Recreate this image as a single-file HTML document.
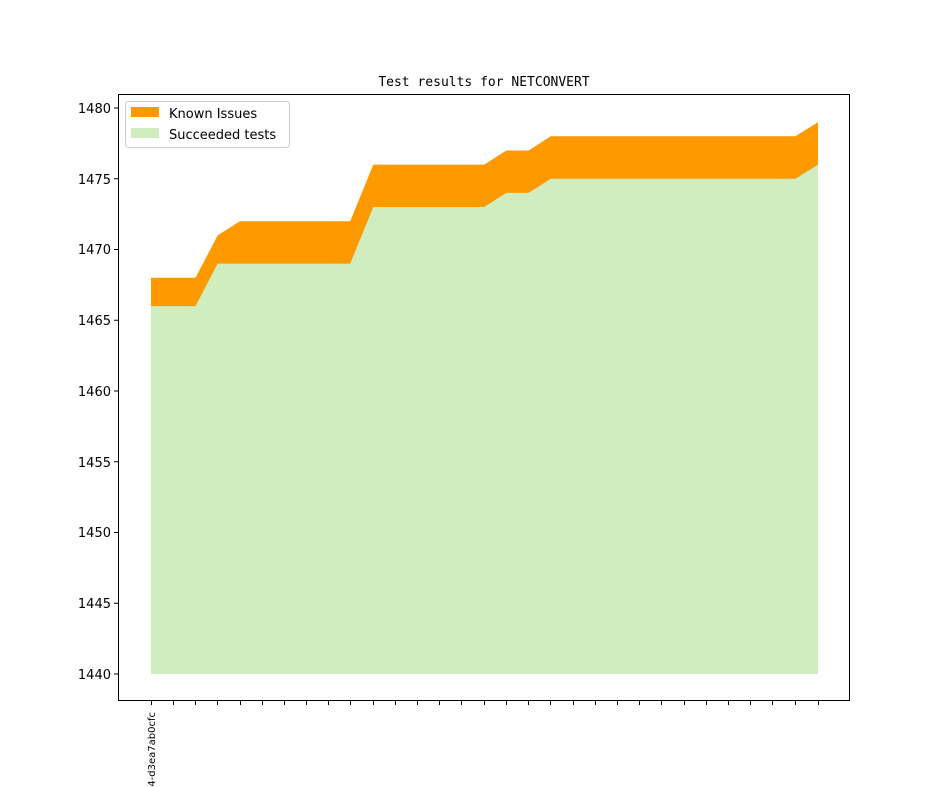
<!DOCTYPE html>
<html><head><meta charset="utf-8"><style>html,body{margin:0;background:#fff;overflow:hidden;width:944px;height:787px}svg{display:block}</style></head><body>
<svg width="944" height="787" xmlns="http://www.w3.org/2000/svg" font-family="DejaVu Sans, Liberation Sans, sans-serif">
<rect width="944" height="787" fill="#fff"/>
<text x="484" y="86" font-size="13" text-anchor="middle" font-family="DejaVu Sans Mono, Liberation Mono, monospace">Test results for NETCONVERT</text>
<polygon fill="#ff9900" points="151,277.8 195.5,277.8 217.7,235.35 239.9,221.2 350.2,221.2 373.3,164.6 484.2,164.6 506.4,150.45 528.6,150.45 550.8,136.3 795.4,136.3 818,122.15 818,674 151,674"/>
<polygon fill="#cfedbf" points="151,306.1 195.5,306.1 217.7,263.65 350.2,263.65 373.3,207.05 484.2,207.05 506.4,192.9 528.6,192.9 550.8,178.75 795.4,178.75 818,164.6 818,674 151,674"/>
<rect x="118.5" y="94.5" width="731" height="606" fill="none" stroke="#000" stroke-width="1"/>
<g stroke="#000" stroke-width="1">
<line x1="118" x2="114" y1="674" y2="674"/><line x1="118" x2="114" y1="603.25" y2="603.25"/><line x1="118" x2="114" y1="532.5" y2="532.5"/><line x1="118" x2="114" y1="461.75" y2="461.75"/><line x1="118" x2="114" y1="391" y2="391"/><line x1="118" x2="114" y1="320.25" y2="320.25"/><line x1="118" x2="114" y1="249.5" y2="249.5"/><line x1="118" x2="114" y1="178.75" y2="178.75"/><line x1="118" x2="114" y1="108" y2="108"/>
</g>
<g font-size="13" text-anchor="end">
<text x="111" y="679">1440</text><text x="111" y="608">1445</text><text x="111" y="537">1450</text><text x="111" y="467">1455</text><text x="111" y="396">1460</text><text x="111" y="325">1465</text><text x="111" y="254">1470</text><text x="111" y="184">1475</text><text x="111" y="113">1480</text>
</g>
<g stroke="#000" stroke-width="1">
<line x1="151.5" x2="151.5" y1="701" y2="705"/><line x1="173.5" x2="173.5" y1="701" y2="705"/><line x1="195.5" x2="195.5" y1="701" y2="705"/><line x1="217.5" x2="217.5" y1="701" y2="705"/><line x1="240.5" x2="240.5" y1="701" y2="705"/><line x1="262.5" x2="262.5" y1="701" y2="705"/><line x1="284.5" x2="284.5" y1="701" y2="705"/><line x1="306.5" x2="306.5" y1="701" y2="705"/><line x1="328.5" x2="328.5" y1="701" y2="705"/><line x1="350.5" x2="350.5" y1="701" y2="705"/><line x1="373.5" x2="373.5" y1="701" y2="705"/><line x1="395.5" x2="395.5" y1="701" y2="705"/><line x1="417.5" x2="417.5" y1="701" y2="705"/><line x1="439.5" x2="439.5" y1="701" y2="705"/><line x1="461.5" x2="461.5" y1="701" y2="705"/><line x1="484.5" x2="484.5" y1="701" y2="705"/><line x1="506.5" x2="506.5" y1="701" y2="705"/><line x1="528.5" x2="528.5" y1="701" y2="705"/><line x1="550.5" x2="550.5" y1="701" y2="705"/><line x1="573.5" x2="573.5" y1="701" y2="705"/><line x1="595.5" x2="595.5" y1="701" y2="705"/><line x1="617.5" x2="617.5" y1="701" y2="705"/><line x1="639.5" x2="639.5" y1="701" y2="705"/><line x1="661.5" x2="661.5" y1="701" y2="705"/><line x1="684.5" x2="684.5" y1="701" y2="705"/><line x1="706.5" x2="706.5" y1="701" y2="705"/><line x1="728.5" x2="728.5" y1="701" y2="705"/><line x1="750.5" x2="750.5" y1="701" y2="705"/><line x1="772.5" x2="772.5" y1="701" y2="705"/><line x1="795.5" x2="795.5" y1="701" y2="705"/><line x1="818.5" x2="818.5" y1="701" y2="705"/>
</g>
<text transform="translate(155,712) rotate(-90)" font-size="10" text-anchor="end">24-d3ea7ab0cfc</text>
<rect x="125.5" y="101.5" width="164" height="46" rx="3" fill="#fff" stroke="#ccc"/>
<rect x="131" y="107" width="28" height="10" fill="#ff9900"/>
<rect x="131" y="128" width="28" height="10" fill="#cfedbf"/>
<text x="169" y="118" font-size="13">Known Issues</text>
<text x="169" y="139" font-size="13">Succeeded tests</text>
</svg>
</body></html>
